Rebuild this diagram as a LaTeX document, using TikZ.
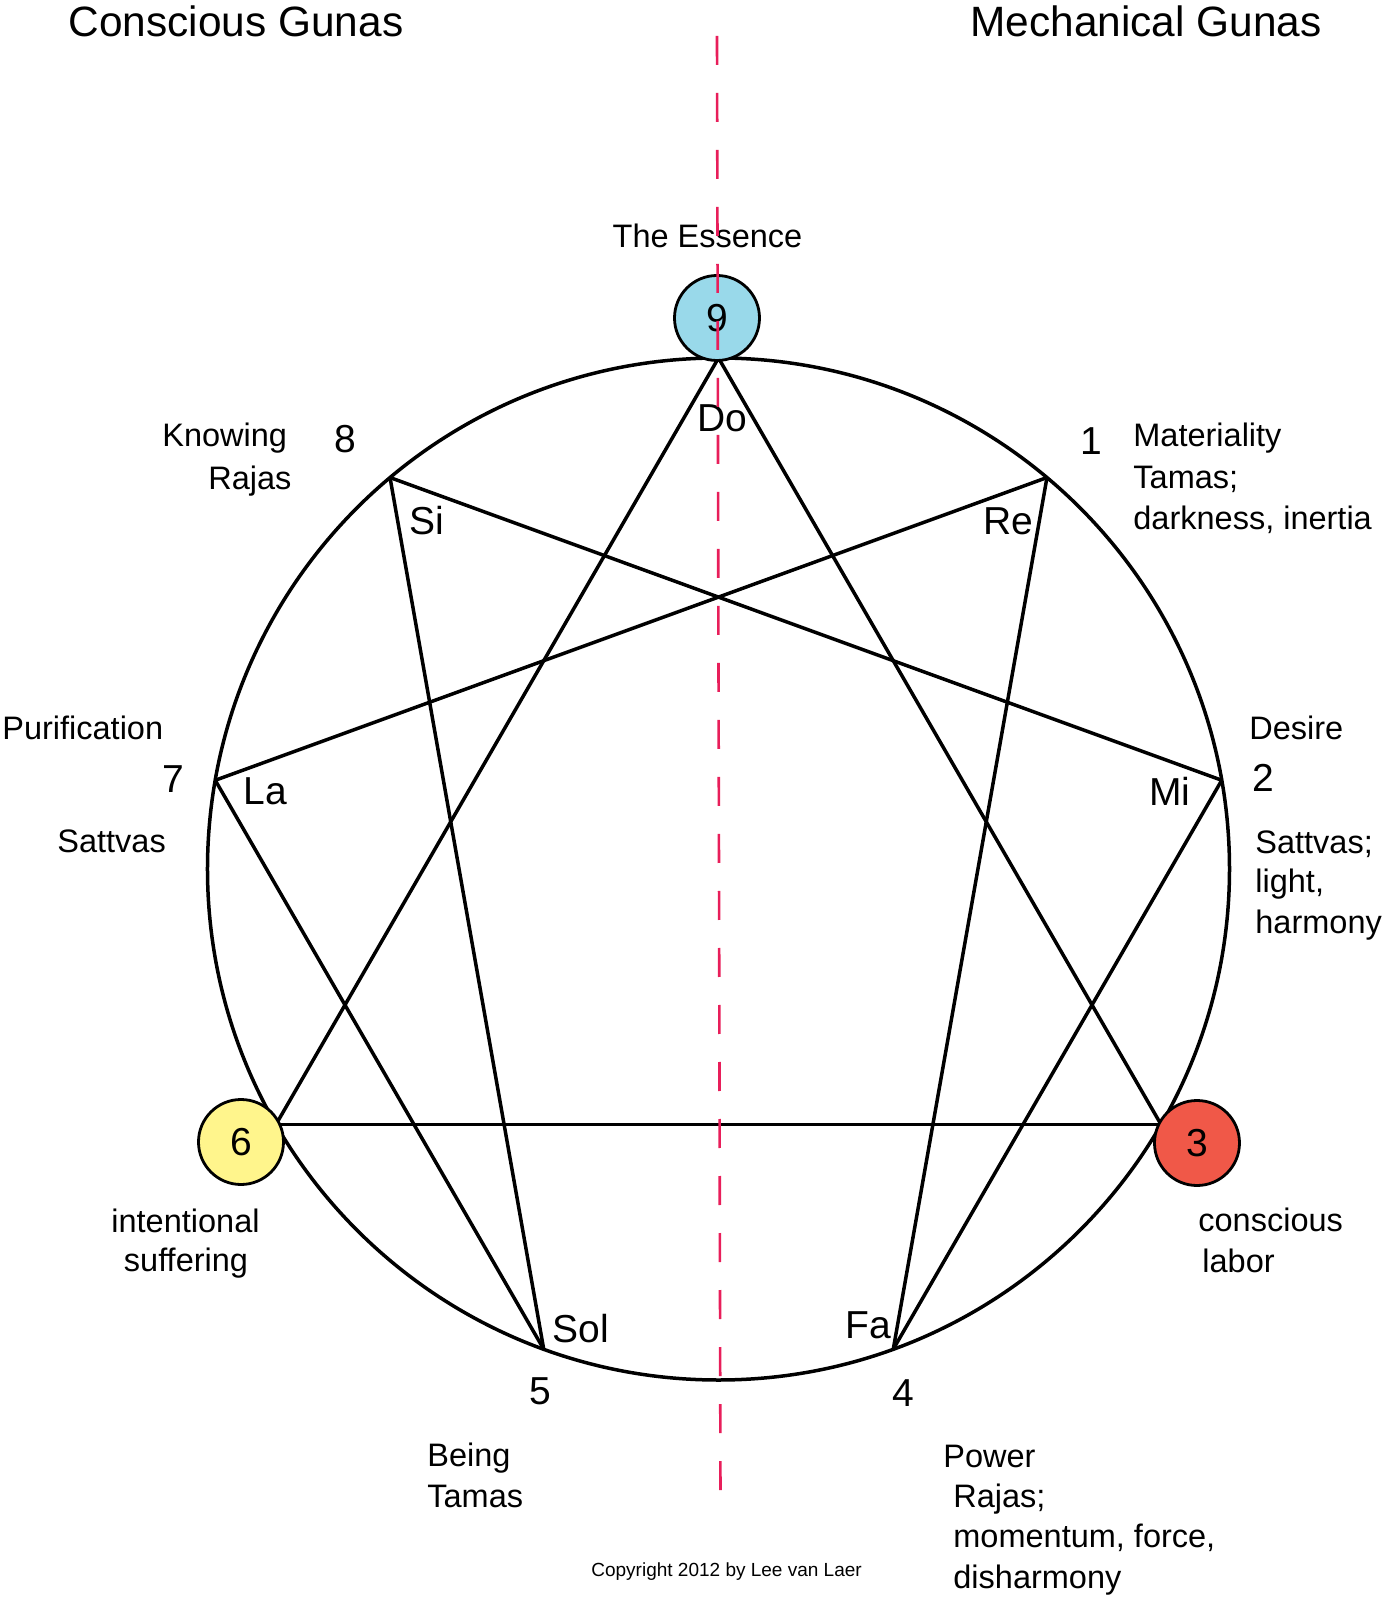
\documentclass[tikz,border=0pt]{standalone}
\usepackage{fontspec}
\setmainfont{Liberation Sans}
\usetikzlibrary{positioning}

\definecolor{essence}{RGB}{153,217,234}
\definecolor{suffer}{RGB}{255,245,140}
\definecolor{labor}{RGB}{240,88,72}
\definecolor{divide}{RGB}{232,30,90}

\begin{document}
\begin{tikzpicture}[
  x=0.5pt, y=0.5pt,
  title/.style={font=\fontsize{21.2}{25}\selectfont, inner sep=0pt, anchor=base},
  num/.style={font=\fontsize{19.5}{23}\selectfont, inner sep=0pt, anchor=base},
  syl/.style={font=\fontsize{19.5}{23}\selectfont, inner sep=0pt, anchor=base west},
  note/.style={font=\fontsize{16.25}{19.5}\selectfont, inner sep=0pt, anchor=base west},
  notec/.style={note, anchor=base},
  point/.style={circle, draw=black, line width=1.4pt, minimum size=42.5pt, inner sep=0pt,
    font=\fontsize{19.5}{23}\selectfont},
  chord/.style={line width=1.75pt}
]
\useasboundingbox (-718.5,-731) rectangle (663.5,869);

% circle and the nine points
\draw[chord] (0,0) circle (511);
\foreach \n/\a in {9/90, 1/50, 2/10, 3/-30, 4/-70, 5/-110, 6/-150, 7/170, 8/130}
  \coordinate (p\n) at (\a:511);

% triangle 9-3-6
\foreach \s/\t in {9/3, 3/6, 6/9}
  \draw[chord] (p\s) -- (p\t);
% hexad 1-4-2-8-5-7-1
\foreach \s/\t in {1/4, 4/2, 2/8, 8/5, 5/7, 7/1}
  \draw[chord] (p\s) -- (p\t);

% coloured points
\node[point, fill=essence] (n9) at (-1.5,551) {9};
\node[point, fill=suffer] (n6) at (-477.5,-273) {6};
\node[point, fill=labor] (n3) at (478.5,-274) {3};

% titles
\node[title] (tcon) at (-482.5,832) {Conscious Gunas};
\node[title] (tmec) at (427.5,832) {Mechanical Gunas};
\node[notec] (ess) at (-11,621) {The Essence};

% numbers
\node[num] (l8) at (-373,416) {8};
\node[num] (l1) at (373,414) {1};
\node[num] (l7) at (-545.5,76) {7};
\node[num] (l2) at (545,77) {2};
\node[num] (l5) at (-178.5,-535) {5};
\node[num] (l4) at (185,-537) {4};

% syllables
\node[num] (sdo) at (4,437) {Do};
\node[syl] (ssi) at (-309.5,334) {Si};
\node[syl] (sre) at (264.5,334) {Re};
\node[syl] (sla) at (-475.5,64) {La};
\node[syl] (smi) at (430.5,63) {Mi};
\node[syl] (ssol) at (-166.5,-473) {Sol};
\node[syl] (sfa) at (126.5,-469) {Fa};

% notes
\node[note] (know) at (-556.5,422) {Knowing};
\node[note] (raj8) at (-510.5,379) {Rajas};
\node[note] (mat) at (414.5,422) {Materiality};
\node[note] (tam1) at (414.5,380) {Tamas;};
\node[note] (dark) at (414.5,339) {darkness, inertia};
\node[note] (pur) at (-716.5,129) {Purification};
\node[note] (sat7) at (-661.5,17) {Sattvas};
\node[note] (des) at (530.5,129) {Desire};
\node[note] (sat2) at (536.5,16) {Sattvas;};
\node[note] (lig) at (536.5,-24) {light,};
\node[note] (harm) at (536.5,-64) {harmony};
\node[notec] (inte) at (-533,-363) {intentional};
\node[notec] (suf) at (-532.5,-402) {suffering};
\node[note] (cons) at (479.5,-362) {conscious};
\node[note] (lab) at (483.5,-403) {labor};
\node[note] (being) at (-291.5,-597) {Being};
\node[note] (tam5) at (-291.5,-638) {Tamas};
\node[note] (pow) at (224.5,-598) {Power};
\node[note] (raj4) at (234.5,-638) {Rajas;};
\node[note] (mom) at (234.5,-678) {momentum, force,};
\node[note] (dis) at (234.5,-719) {disharmony};
\node[note, font=\fontsize{9.5}{11}\selectfont] (copy) at (-127.5,-707) {Copyright 2012 by Lee van Laer};

% dividing line
\coordinate (dtop) at (-1.5,833);
\coordinate (dbot) at (2,-629);
\draw[divide, line width=1.3pt, dash pattern=on 14.5pt off 14pt] (dtop) -- (dbot);
\end{tikzpicture}
\end{document}
